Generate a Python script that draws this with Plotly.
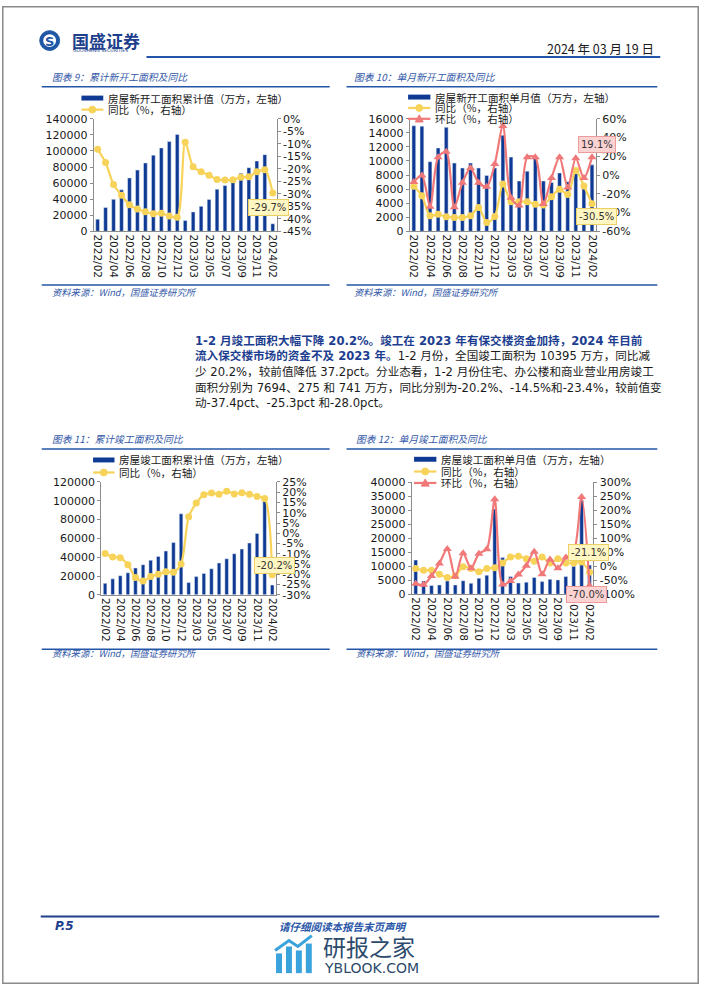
import plotly.graph_objects as go

W, H = 702, 991


def X(px):
    return px / W


def Y(py):
    return 1 - py / H


# ---------------- data ----------------
cats = ["2022/02", "2022/03", "2022/04", "2022/05", "2022/06", "2022/07", "2022/08",
        "2022/09", "2022/10", "2022/11", "2022/12", "2023/02", "2023/03", "2023/04",
        "2023/05", "2023/06", "2023/07", "2023/08", "2023/09", "2023/10", "2023/11",
        "2023/12", "2024/02"]
tick_cats = ["2022/02", "2022/04", "2022/06", "2022/08", "2022/10", "2022/12",
             "2023/03", "2023/05", "2023/07", "2023/09", "2023/11", "2024/02"]

# chart 9: cumulative new starts
new_cum = [15115, 29638, 39739, 51628, 66423, 76220, 85062, 94767, 103722, 111632, 120587,
           13567, 24121, 31026, 39723, 52427, 56969, 63891, 72123, 79177, 87456, 95376, 9429]
new_cum_yoy = [-12.2, -17.5, -26.3, -30.6, -34.4, -36.1, -37.2, -38.0, -37.8, -38.9, -39.4,
               -9.4, -19.2, -21.2, -22.6, -24.3, -24.5, -24.4, -23.4, -23.2, -21.2, -20.4, -29.7]

# chart 10: monthly new starts
new_mon = [15000, 14950, 9900, 11850, 14800, 9700, 9000, 9700, 9000, 7950, 9000,
           13650, 10550, 7150, 8550, 10500, 7150, 6950, 8300, 7050, 8200, 6450, 9450]
new_mon_yoy = [-11.9, -22.1, -43.5, -41.8, -44.6, -45.2, -45.2, -43.5, -34.7, -50.5, -44.2,
               -9.6, -28.4, -28.4, -28.4, -31.2, -31.9, -23.2, -15.1, -20.7, 4.9, -11.6, -30.5]
new_mon_mom = [-7.4, -0.4, -33.7, 18.9, 24.9, -34.4, -8.1, 7.4, -8.1, -12.6, 11.9,
               52.3, -24.2, -32.6, 18.9, 18.9, -30.9, -3.2, 18.9, -13.3, 17.9, -3.2, 19.1]

# chart 11: cumulative completions
cmp_cum = [12239, 17016, 20386, 23416, 28636, 32028, 36856, 40879, 46565, 55709, 86222,
           13058, 19422, 22827, 27826, 33904, 38405, 43726, 48705, 55151, 65237, 99831, 10395]
cmp_cum_yoy = [-9.8, -11.5, -11.9, -15.3, -21.5, -23.3, -21.1, -19.9, -18.7, -19.0, -15.0,
               8.0, 14.7, 18.8, 19.6, 19.0, 20.5, 19.2, 19.8, 19.0, 17.9, 17.0, -20.2]

# chart 12: monthly completions
cmp_mon = [12200, 4700, 3100, 3300, 4700, 3300, 4800, 3900, 5700, 6800, 30500,
           13100, 6300, 4000, 4300, 6000, 4500, 5300, 5100, 6300, 10000, 33500, 10400]
cmp_mon_yoy = [-8, -14, -14, -29, -40, -34, -2, -8, -20, -8, -5,
               12, 33, 36, 27, 18, 33, 12, 27, 12, 12, 15, -21.1]
cmp_mon_mom = [-63, -66, -35, 10, 62, -38, 46, -7, 45, 61, 240,
               -65, -53, -30, 2, 52, -29, 24, -7, 31, 50, 248, -70.0]

# axis tick labels
r9_vals = [0, -5, -10, -15, -20, -25, -30, -35, -40, -45]
r9_text = ["0%", "-5%", "-10%", "-15%", "-20%", "-25%", "-30%", "-35%", "-40%", "-45%"]
r10_vals = [60, 40, 20, 0, -20, -40, -60]
r10_text = ["60%", "40%", "20%", "0%", "-20%", "-40%", "-60%"]
r11_vals = [25, 20, 15, 10, 5, 0, -5, -10, -15, -20, -25, -30]
r11_text = ["25%", "20%", "15%", "10%", "5%", "0%", "-5%", "-10%", "-15%", "-20%", "-25%", "-30%"]
r12_vals = [300, 250, 200, 150, 100, 50, 0, -50, -100]
r12_text = ["300%", "250%", "200%", "150%", "100%", "50%", "0%", "-50%", "-100%"]

# ---------------- style ----------------
BAR = "#0f3a94"
YEL = "#f8d35a"
RED = "#f07878"
AX = "#8c8c8c"
TXT = "#1a1a1a"
CJK = "Noto Sans CJK SC"
LAT = "DejaVu Sans, Noto Sans CJK SC"
TF = dict(family=LAT, size=11, color=TXT)
XF = dict(family=LAT, size=10.5, color=TXT)

fig = go.Figure()

panels = [
    ("x", "y", "y2", 92.3, 276.7, 114.3, 228.3, new_cum, [(new_cum_yoy, YEL, "circle")],
     [0, 140000], 20000, [-45, 0], r9_vals, r9_text),
    ("x2", "y3", "y4", 410.7, 598.3, 114.3, 228.3, new_mon,
     [(new_mon_yoy, YEL, "circle"), (new_mon_mom, RED, "triangle-up")],
     [0, 16000], 2000, [-60, 60], r10_vals, r10_text),
    ("x3", "y5", "y6", 100.0, 276.0, 482.3, 596.7, cmp_cum, [(cmp_cum_yoy, YEL, "circle")],
     [0, 120000], 20000, [-30, 25], r11_vals, r11_text),
    ("x4", "y7", "y8", 412.7, 595.7, 482.7, 596.0, cmp_mon,
     [(cmp_mon_yoy, YEL, "circle"), (cmp_mon_mom, RED, "triangle-up")],
     [0, 40000], 5000, [-100, 300], r12_vals, r12_text),
]

layout_axes = {}
for (xa, yl, yr, x0, x1, yt, yb, bars, lines, lrange, ldt, rrange, rv, rt) in panels:
    fig.add_trace(go.Bar(x=cats, y=bars, xaxis=xa, yaxis=yl, marker_color=BAR,
                         width=0.47, showlegend=False, hoverinfo="skip"))
    for vals, col, sym in lines:
        fig.add_trace(go.Scatter(x=cats, y=vals, xaxis=xa, yaxis=yr, mode="lines+markers",
                                 line=dict(color=col, width=2.2, shape="spline", smoothing=0.8),
                                 marker=dict(color=col, size=7 if sym == "circle" else 8,
                                             symbol=sym),
                                 showlegend=False, hoverinfo="skip"))
    xkey = "xaxis" + xa[1:]
    ylkey = "yaxis" + yl[1:]
    yrkey = "yaxis" + yr[1:]
    layout_axes[xkey] = dict(domain=[X(x0), X(x1)], anchor=yl, type="category",
                             categoryorder="array", categoryarray=cats, range=[-0.5, 22.5],
                             tickmode="array", tickvals=tick_cats, ticktext=tick_cats,
                             tickangle=90, showline=True, linecolor=AX, linewidth=1,
                             ticks="", showgrid=False, zeroline=False, tickfont=XF,
                             fixedrange=True)
    layout_axes[ylkey] = dict(domain=[Y(yb), Y(yt)], anchor=xa, range=lrange, dtick=ldt,
                              tick0=0, tickformat="d", showline=True, linecolor=AX,
                              linewidth=1, ticks="outside", ticklen=3, tickcolor=AX,
                              showgrid=False, zeroline=False, tickfont=TF, fixedrange=True)
    layout_axes[yrkey] = dict(overlaying=yl, side="right", anchor=xa, range=rrange,
                              tickmode="array", tickvals=rv, ticktext=rt, showline=True,
                              linecolor=AX, linewidth=1, ticks="outside", ticklen=3,
                              tickcolor=AX, showgrid=False, zeroline=False, tickfont=TF,
                              fixedrange=True)

shapes = []
ann = []


def line(x0, y0, x1, y1, color, width):
    shapes.append(dict(type="line", xref="paper", yref="paper", x0=X(x0), y0=Y(y0),
                       x1=X(x1), y1=Y(y1), line=dict(color=color, width=width)))


def text(x, y, s, size, color=TXT, family=CJK, xanchor="left", style=None):
    f = dict(family=family, size=size, color=color)
    if style:
        f["style"] = style
    ann.append(dict(xref="paper", yref="paper", x=X(x), y=Y(y), text=s, showarrow=False,
                    xanchor=xanchor, yanchor="middle", font=f))


# page border
shapes.append(dict(type="rect", xref="paper", yref="paper", x0=X(0.8), y0=Y(990.2),
                   x1=X(701.2), y1=Y(0.8), line=dict(color="#8a8a8a", width=1.5)))

# header
shapes.append(dict(type="circle", xref="paper", yref="paper", x0=X(38), x1=X(58),
                   y0=Y(45), y1=Y(25), fillcolor="#1f56a6", line=dict(color="#1f56a6", width=1)))
shapes.append(dict(type="circle", xref="paper", yref="paper", x0=X(41.5), x1=X(54.5),
                   y0=Y(41.5), y1=Y(28.5), fillcolor="white", line=dict(color="white", width=0)))
text(48, 35.5, "<b>S</b>", 13, "#1f56a6", "DejaVu Sans", "center")
text(68, 34.5, "<b>国盛证券</b>", 17, "#1d3f8c")
text(69, 45.5, "GUOSHENG SECURITIES", 4.6, "#1d3f8c", "DejaVu Sans")
text(659, 43, "2024 年 03 月 19 日", 12.5, TXT, "Liberation Sans Narrow, " + CJK, "right")
line(145.5, 51.7, 663, 51.7, "#2356a8", 2)

# footer
line(39, 922.7, 662, 922.7, "#1d3f8c", 2)
text(51, 932.5, "<b><i>P.5</i></b>", 12, "#1d3f8c", "DejaVu Sans")
text(343, 932.5, "<b><i>请仔细阅读本报告末页声明</i></b>", 10.5, "#2a56a8", CJK, "center")

# watermark
WM = "#3aa3dc"
for bx0, bx1, btop in [(276, 282, 960), (286, 292, 953), (296, 302, 957), (306, 312, 950)]:
    shapes.append(dict(type="rect", xref="paper", yref="paper", x0=X(bx0), x1=X(bx1),
                       y0=Y(980), y1=Y(btop), fillcolor=WM, line=dict(width=0)))
shapes.append(dict(type="path", xref="paper", yref="paper",
                   path="M %f %f L %f %f L %f %f L %f %f" % (X(275), Y(957), X(289), Y(947),
                                                            X(298), Y(953), X(312), Y(942)),
                   line=dict(color=WM, width=3)))
text(321, 953, "研报之家", 23, "#2c4a6c")
text(322, 974.5, "YBLOOK.COM", 14, "#2c4a6c", "DejaVu Sans")

# body paragraph
BODY = "#1d3e90"
fs = 11.6
bx = 192
text(bx, 339.3, "<b>1-2 月竣工面积大幅下降 20.2%。竣工在 2023 年有保交楼资金加持，2024 年目前</b>",
     fs, BODY, LAT)
text(bx, 355.0, "<b>流入保交楼市场的资金不及 2023 年。</b><span style='color:#1a1a1a'>1-2 月份，全国竣工面积为 10395 万方，同比减</span>",
     fs, BODY, LAT)
text(bx, 371.0, "少 20.2%，较前值降低 37.2pct。分业态看，1-2 月份住宅、办公楼和商业营业用房竣工",
     fs, TXT, LAT)
text(bx, 386.7, "面积分别为 7694、275 和 741 万方，同比分别为-20.2%、-14.5%和-23.4%，较前值变",
     fs, TXT, LAT)
text(bx, 402.7, "动-37.4pct、-25.3pct 和-28.0pct。", fs, TXT, LAT)

# panel titles, rules, sources
TCOL = "#3358a8"
for (tx, ty, ttl, lx0, lx1, ly, sy, sly) in [
    (48, 71.7, "图表 9：累计新开工面积及同比", 40, 330, 81.7, 290, 282.7),
    (353, 71.7, "图表 10：单月新开工面积及同比", 347, 660, 81.7, 290, 282.7),
    (48, 438.3, "图表 11：累计竣工面积及同比", 40, 330, 449, 656, 651.7),
    (355, 438.3, "图表 12：单月竣工面积及同比", 347, 660, 449, 656, 651.7),
]:
    text(tx, ty, ttl, 9.8, TCOL, CJK, "left", "italic")
    line(lx0, ly, lx1, ly, "#2356a8", 1.5)
    line(lx0, sly, lx1, sly, "#2356a8", 1.5)
    text(tx, sy, "资料来源：Wind，国盛证券研究所", 9.3, TCOL, CJK, "left", "italic")


# legends (drawn glyphs + text)
LEGF = 10.6


def leg_bar(x0, x1, y, label):
    shapes.append(dict(type="rect", xref="paper", yref="paper", x0=X(x0), x1=X(x1),
                       y0=Y(y + 2.5), y1=Y(y - 2.5), fillcolor=BAR, line=dict(width=0)))
    text(x1 + 3, y, label, LEGF, TXT, CJK)


def leg_line(x0, x1, y, label, col, sym):
    line(x0, y, x1, y, col, 2.2)
    cx = (x0 + x1) / 2
    if sym == "circle":
        shapes.append(dict(type="circle", xref="paper", yref="paper", x0=X(cx - 3.5),
                           x1=X(cx + 3.5), y0=Y(y + 3.5), y1=Y(y - 3.5), fillcolor=col,
                           line=dict(color=col, width=1)))
    else:
        shapes.append(dict(type="path", xref="paper", yref="paper",
                           path="M %f %f L %f %f L %f %f Z" % (X(cx - 4), Y(y + 3.2),
                                                                 X(cx + 4), Y(y + 3.2),
                                                                 X(cx), Y(y - 4)),
                           fillcolor=col, line=dict(color=col, width=1)))
    text(x1 + 3, y, label, LEGF, TXT, CJK)


leg_bar(80, 102, 93.3, "房屋新开工面积累计值（万方，左轴）")
leg_line(80, 102, 105, "同比（%，右轴）", YEL, "circle")

leg_bar(409, 431.5, 92.3, "房屋新开工面积单月值（万方，左轴）")
leg_line(409, 431.5, 103.3, "同比（%，右轴）", YEL, "circle")
leg_line(409, 431.5, 114.3, "环比（%，右轴）", RED, "triangle")

leg_bar(91.7, 113.3, 460, "房屋竣工面积累计值（万方，左轴）")
leg_line(91.7, 113.3, 472.7, "同比（%，右轴）", YEL, "circle")

leg_bar(415, 437.5, 459.3, "房屋竣工面积单月值（万方，左轴）")
leg_line(415, 437.5, 471.7, "同比（%，右轴）", YEL, "circle")
leg_line(415, 437.5, 483.3, "环比（%，右轴）", RED, "triangle")


# data labels
def dlabel(xa, ya, val, xs, ys, fill, border):
    ann.append(dict(xref=xa, yref=ya, x=cats[-1], y=val, text="%.1f%%" % val,
                    showarrow=False, xshift=xs, yshift=ys,
                    font=dict(family="DejaVu Sans", size=10, color="#333333"),
                    bgcolor=fill, bordercolor=border, borderwidth=1, borderpad=2))


YFILL, YBOR = "#fff6c2", "#ecd064"
RFILL, RBOR = "#fbd3d3", "#ec9a9a"
dlabel("x", "y2", new_cum_yoy[-1], -4, -14, YFILL, YBOR)
dlabel("x2", "y4", new_mon_mom[-1], 5, 13, RFILL, RBOR)
dlabel("x2", "y4", new_mon_yoy[-1], 5, -13, YFILL, YBOR)
dlabel("x3", "y6", cmp_cum_yoy[-1], 2, 9, YFILL, YBOR)
dlabel("x4", "y8", cmp_mon_yoy[-1], -1, 20, YFILL, YBOR)
dlabel("x4", "y8", cmp_mon_mom[-1], -3, -9, RFILL, RBOR)

fig.update_layout(width=W, height=H, margin=dict(l=0, r=0, t=0, b=0),
                  paper_bgcolor="white", plot_bgcolor="white", showlegend=False,
                  barmode="overlay", shapes=shapes, annotations=ann, **layout_axes)

fig.write_html("out.html", config={"displayModeBar": False, "staticPlot": True},
               post_script="document.body.style.margin='0';"
                           "document.documentElement.style.overflow='hidden';"
                           "document.body.style.overflow='hidden';")
